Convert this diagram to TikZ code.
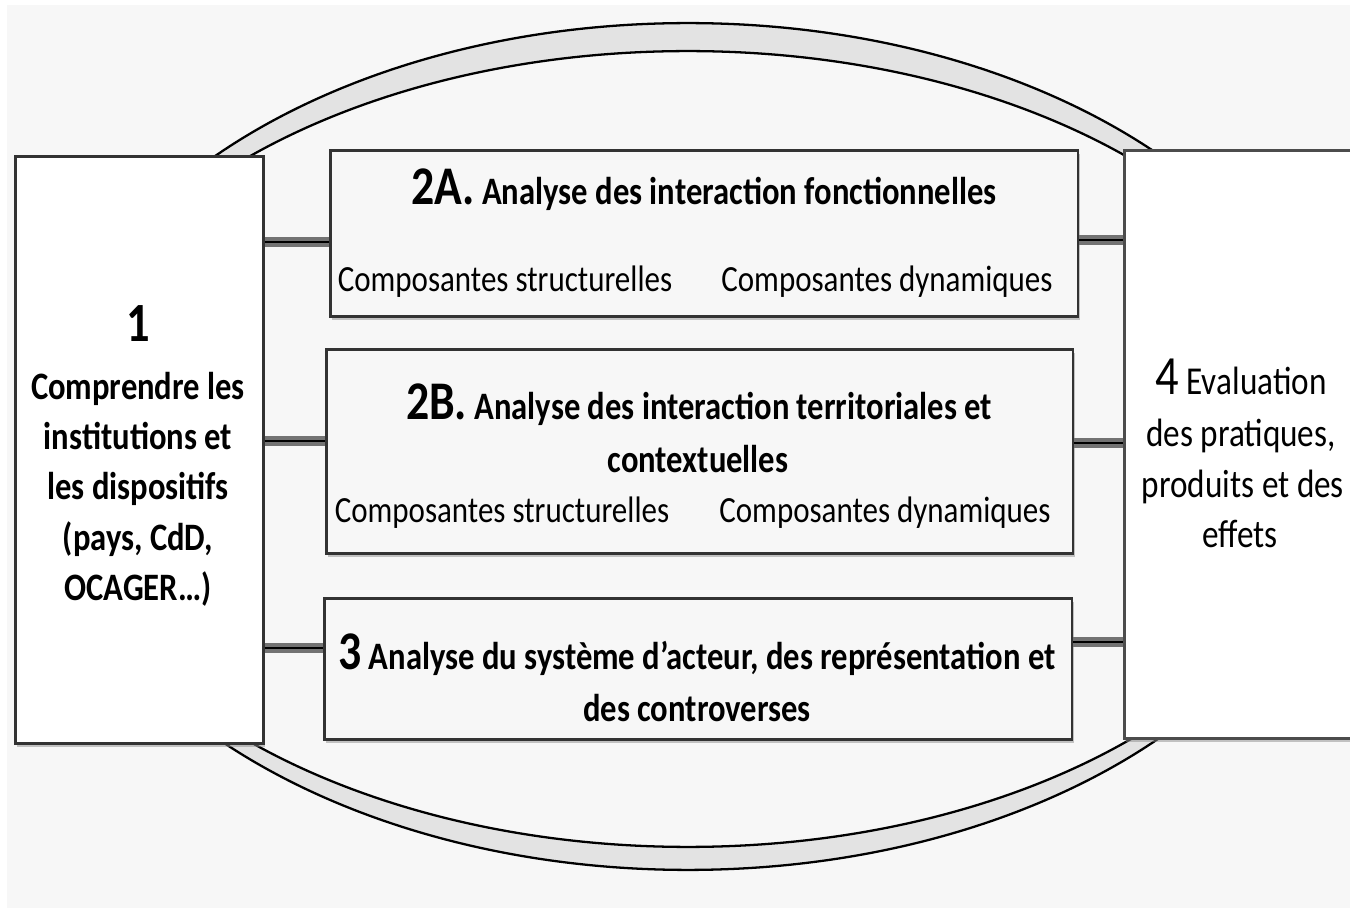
\documentclass[tikz,border=0pt]{standalone}
\usepackage{fontspec}
\setmainfont{Carlito}
\newfontfamily\cf[FakeStretch=0.84]{Carlito}
\usetikzlibrary{shadows}
\definecolor{bg}{HTML}{F7F7F7}
\definecolor{band}{HTML}{E3E3E3}
\begin{document}
\begin{tikzpicture}[x=0.02cm,y=-0.02cm,
  box/.style={draw=black!80, line width=1.5pt, fill=bg, anchor=north west, inner sep=0pt,
    drop shadow={shadow xshift=1.2pt, shadow yshift=-2pt, fill=black!45, opacity=0.5}},
  sidebox/.style={box, fill=white},
  conn/.style={line width=1.7pt, black, preaction={draw, line width=5.5pt, black!55}},
  arcline/.style={line width=1.3pt, black},
  lab/.style={font=\cf\fontsize{21}{24}\selectfont, inner sep=0pt, anchor=base},
  rlab/.style={font=\cf\fontsize{22.5}{24}\selectfont, inner sep=0pt, anchor=base},
  blab/.style={font=\cf\bfseries\fontsize{22.1}{24}\selectfont, inner sep=0pt, anchor=base},
  big/.style={font=\cf\bfseries\fontsize{31.5}{30}\selectfont, inner sep=0pt, anchor=base}
]
\useasboundingbox (0,0) rectangle (1350,908);
\fill[white] (0,0) rectangle (1350,908);
\fill[bg] (7,5) rectangle (1350,908);
% lens (double arc)
\fill[band] (688,446.5) ellipse [x radius=13cm, y radius=8.47cm];
\draw[arcline] (688,446.5) ellipse [x radius=13cm, y radius=8.47cm];
\fill[bg] (688,449) ellipse [x radius=12.94cm, y radius=7.96cm];
\draw[arcline] (688,449) ellipse [x radius=12.94cm, y radius=7.96cm];
% boxes
\node[sidebox, minimum width=4.96cm, minimum height=11.74cm] (L) at (14,155) {};
\node[sidebox, draw=black!70, minimum width=4.8cm, minimum height=11.76cm] (R) at (1123,149) {};
\node[box, minimum width=14.96cm, minimum height=3.32cm] (A) at (329,149) {};
\node[box, minimum width=14.94cm, minimum height=4.08cm] (B) at (325,348) {};
\node[box, minimum width=14.96cm, minimum height=2.82cm] (C) at (323,597) {};
% connectors
\coordinate (ya) at (0,242);
\coordinate (yb) at (0,441);
\coordinate (yc) at (0,648);
\coordinate (ra) at (0,240);
\coordinate (rb) at (0,443);
\coordinate (rc) at (0,642);
\draw[conn] (L.east |- ya) -- (A.west |- ya);
\draw[conn] (L.east |- yb) -- (B.west |- yb);
\draw[conn] (L.east |- yc) -- (C.west |- yc);
\draw[conn] (A.east |- ra) -- (R.west |- ra);
\draw[conn] (B.east |- rb) -- (R.west |- rb);
\draw[conn] (C.east |- rc) -- (R.west |- rc);
% texts in 2A
\node[blab] (tA) at (704,205) {{\fontsize{31}{30}\selectfont 2A.} Analyse des interaction fonctionnelles};
\node[lab] (sA1) at (505,292) {Composantes structurelles};
\node[lab] (sA2) at (887,292) {Composantes dynamiques};
% texts in 2B
\node[blab] (tB1) at (699,420) {{\fontsize{31}{30}\selectfont 2B.} Analyse des interaction territoriales et};
\node[blab] (tB2) at (698,473) {contextuelles};
\node[lab] (sB1) at (502,523) {Composantes structurelles};
\node[lab] (sB2) at (885,523) {Composantes dynamiques};
% texts in 3
\node[blab] (tC1) at (697,670) {{\fontsize{31}{30}\selectfont 3} Analyse du système d’acteur, des représentation et};
\node[blab] (tC2) at (697,722) {des controverses};
% left box
\node[big] (n1) at (138,342) {1};
\node[blab] (l1) at (138,400) {Comprendre les};
\node[blab] (l2) at (138,450) {institutions et};
\node[blab] (l3) at (138,500) {les dispositifs};
\node[blab] (l4) at (138,551) {(pays, CdD,};
\node[blab] (l5) at (138,601) {OCAGER…)};
% right box
\node[rlab] (r1) at (1241,395) {{\fontsize{31.5}{30}\selectfont 4} Evaluation};
\node[rlab] (r2) at (1241,447) {des pratiques,};
\node[rlab] (r3) at (1243,498) {produits et des};
\node[rlab] (r4) at (1240,548) {effets};
\end{tikzpicture}
\end{document}
